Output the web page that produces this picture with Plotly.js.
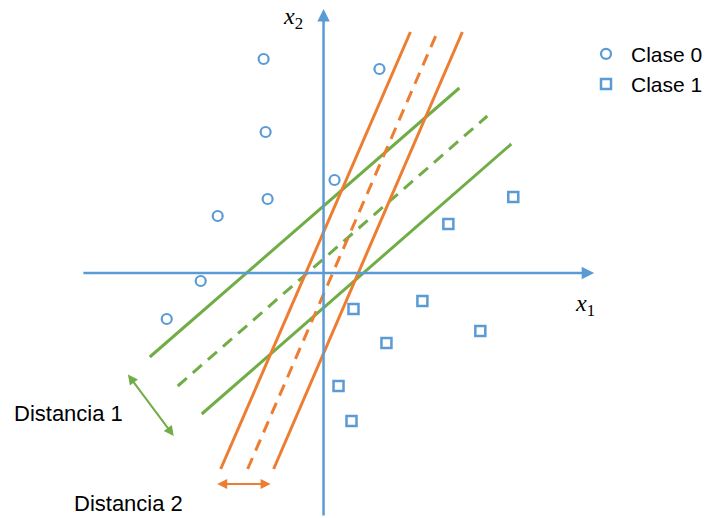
<!DOCTYPE html>
<html>
<head>
<meta charset="utf-8">
<script src="https://cdn.plot.ly/plotly-3.0.1.min.js"></script>
<style>
  html, body { margin: 0; padding: 0; background: #fff; }
  #chart { width: 708px; height: 518px; }
</style>
</head>
<body>
<div id="chart"></div>
<script>
// Sample points for the two classes
const clase0X = [-1.2, 1.12, -1.16, 0.22, -2.12, -1.12, -2.46, -3.14];
const clase0Y = [4.28, 4.08, 2.82, 1.86, 1.14, 1.48, -0.16, -0.92];
const clase1X = [3.8, 2.5, 1.98, 0.6, 3.14, 1.26, 0.3, 0.56];
const clase1Y = [1.52, 0.98, -0.56, -0.72, -1.16, -1.4, -2.26, -2.96];

// Steep separating line (orange): left margin, boundary, right margin
const naranjaIzqX = [-2.06, 1.74];
const naranjaIzqY = [-3.92, 4.82];
const naranjaMedX = [-1.52, 2.28];
const naranjaMedY = [-3.92, 4.82];
const naranjaDerX = [-1.0, 2.78];
const naranjaDerY = [-3.92, 4.82];

// Wide-margin separating line (green): upper margin, boundary, lower margin
const verdeSupX = [-3.48, 2.72];
const verdeSupY = [-1.68, 3.70];
const verdeMedX = [-2.92, 3.28];
const verdeMedY = [-2.26, 3.14];
const verdeInfX = [-2.44, 3.76];
const verdeInfY = [-2.82, 2.58];

// Axis arrows (tail -> head)
const ejeX1 = { from: [-4.84, 0], to: [5.42, 0] };
const ejeX2 = { from: [0, -4.88], to: [0, 5.28] };

// Margin-width arrows
const distancia1 = { from: [-3.94, -2.0], to: [-3.0, -3.26] };
const distancia2 = { from: [-2.16, -4.22], to: [-1.06, -4.22] };

// Text labels
const etiquetas = {
  x1: '<i>x</i><sub>1</sub>',
  x2: '<i>x</i><sub>2</sub>',
  d1: 'Distancia 1',
  d2: 'Distancia 2',
  c0: 'Clase 0',
  c1: 'Clase 1'
};

const AZUL = '#5B9BD5';
const NARANJA = '#ED7D31';
const VERDE = '#70AD47';
const DASH = '12px,8px';

function linea(x, y, color, dash) {
  return {
    type: 'scatter', mode: 'lines', x: x, y: y,
    line: { color: color, width: 3, dash: dash || 'solid' },
    showlegend: false, hoverinfo: 'skip'
  };
}

const data = [
  linea(verdeSupX, verdeSupY, VERDE),
  linea(verdeMedX, verdeMedY, VERDE, DASH),
  linea(verdeInfX, verdeInfY, VERDE),
  linea(naranjaIzqX, naranjaIzqY, NARANJA),
  linea(naranjaMedX, naranjaMedY, NARANJA, DASH),
  linea(naranjaDerX, naranjaDerY, NARANJA),
  {
    type: 'scatter', mode: 'markers', name: etiquetas.c0,
    x: clase0X, y: clase0Y,
    marker: { symbol: 'circle-open', size: 10, color: AZUL, line: { color: AZUL, width: 2.2 } }
  },
  {
    type: 'scatter', mode: 'markers', name: etiquetas.c1,
    x: clase1X, y: clase1Y,
    marker: { symbol: 'square-open', size: 10, color: AZUL, line: { color: AZUL, width: 2.5 } }
  }
];

function flecha(f, color, width, ambos) {
  return {
    x: f.to[0], y: f.to[1], ax: f.from[0], ay: f.from[1],
    xref: 'x', yref: 'y', axref: 'x', ayref: 'y',
    text: '', showarrow: true,
    arrowhead: 2, arrowsize: 1, arrowwidth: width, arrowcolor: color,
    arrowside: ambos ? 'end+start' : 'end',
    startarrowhead: 2, startarrowsize: 1
  };
}

function texto(t, x, y, size, family, xanchor) {
  return {
    x: x, y: y, xref: 'x', yref: 'y', text: t, showarrow: false,
    xanchor: xanchor || 'center', yanchor: 'middle',
    font: { size: size, family: family, color: '#000' }
  };
}

const SANS = 'Liberation Sans, Arial, sans-serif';
const SERIF = 'Liberation Serif, DejaVu Serif, serif';

const layout = {
  width: 708, height: 518,
  margin: { l: 0, r: 0, t: 0, b: 0 },
  paper_bgcolor: '#fff', plot_bgcolor: '#fff',
  xaxis: { range: [-6.48, 7.68], visible: false, fixedrange: true },
  yaxis: { range: [-4.9, 5.46], visible: false, fixedrange: true },
  showlegend: true,
  legend: {
    x: 0.822, y: 0.935, xanchor: 'left', yanchor: 'top',
    itemwidth: 40,
    font: { size: 21, family: SANS, color: '#000' },
    bgcolor: 'rgba(0,0,0,0)', borderwidth: 0
  },
  annotations: [
    flecha(ejeX1, AZUL, 2.5, false),
    flecha(ejeX2, AZUL, 2.5, false),
    flecha(distancia1, VERDE, 2, true),
    flecha(distancia2, NARANJA, 2, true),
    texto(etiquetas.x1, 5.24, -0.64, 24, SERIF),
    texto(etiquetas.x2, -0.62, 5.1, 24, SERIF),
    texto(etiquetas.d1, -6.24, -2.8, 22, SANS, 'left'),
    texto(etiquetas.d2, -5.04, -4.6, 22, SANS, 'left')
  ]
};

Plotly.newPlot('chart', data, layout, { displayModeBar: false, staticPlot: true });
</script>
</body>
</html>
